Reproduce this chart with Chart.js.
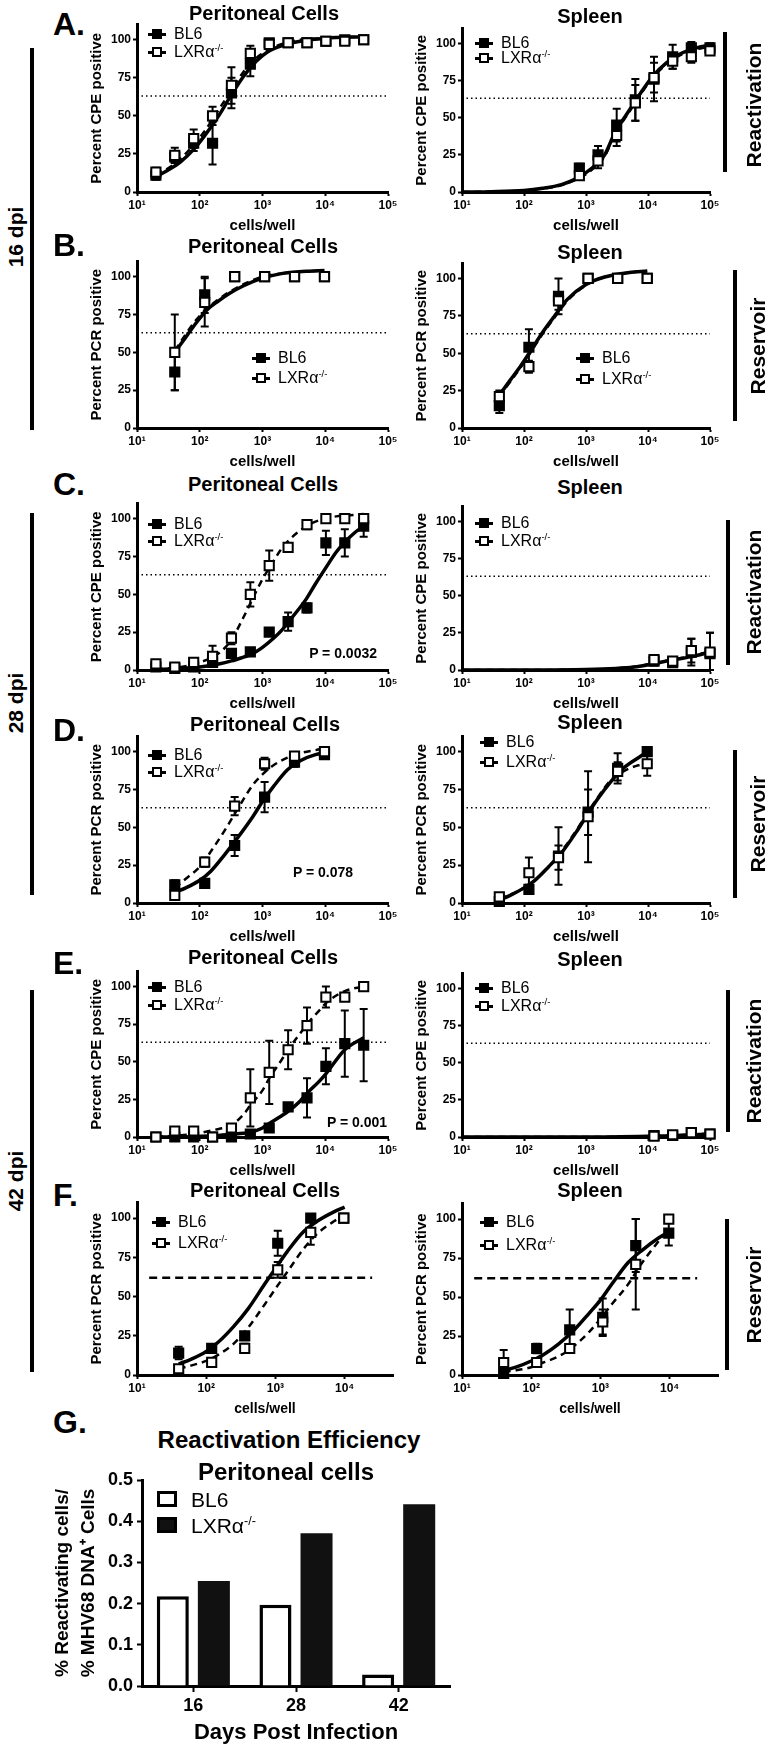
<!DOCTYPE html>
<html><head><meta charset="utf-8">
<script src="https://cdn.jsdelivr.net/npm/chart.js@4.4.1/dist/chart.umd.min.js"></script>
<style>
html,body{margin:0;padding:0;background:#fff;}
body{width:769px;height:1749px;position:relative;overflow:hidden;font-family:"Liberation Sans",Arial,Helvetica,sans-serif;color:#000;}
canvas{position:absolute;}
.t{position:absolute;white-space:nowrap;line-height:1;}
.vt{position:absolute;white-space:nowrap;line-height:1;transform:translate(-50%,-50%) rotate(-90deg);}
.bar{position:absolute;background:#000;}
.lg{position:absolute;white-space:nowrap;line-height:1;transform:translateY(-50%);}
.mk{position:absolute;height:3px;width:18px;background:#000;}
.sq{position:absolute;width:6px;height:6px;border:2px solid #000;}
.gb{position:absolute;width:14px;height:10px;border:3px solid #000;}
sup{font-size:0.6em;line-height:0;vertical-align:0.6em;}
</style></head><body>
<script>
// ---------------- DATA ----------------
const logTicks5 = [10, 100, 1000, 10000, 100000];
const logTicks4 = [10, 100, 1000, 10000];
const pctTicks = [0, 25, 50, 75, 100];
const cpePeriDil = [20, 40, 80, 160, 320, 640, 1280, 2560, 5120, 10240, 20480, 40960];
const cpeSplDil = [781, 1563, 3125, 6250, 12500, 25000, 50000, 100000];
const pcrDil = [40, 120, 360, 1080, 3240, 9720];
const cutoffPct = 63;
const cutoffPctF = 62;
const cutoffXF = [15, 25000];

// A. 16 dpi reactivation, peritoneal
const aL_bl6 = [11, 23, 32, 32, 65, 84, 98, 98, 98, 99, 100, 100];
const aL_bl6Err = [3, 4, 5, 14, 10, 8, 2, 1, 1, 1, 1, 1];
const aL_lxr = [13, 24, 35, 50, 70, 91, 97, 98, 98, 99, 99, 100];
const aL_lxrErr = [3, 5, 6, 6, 12, 5, 2, 1, 1, 1, 1, 1];
const aL_fitX = [20, 30, 50, 80, 120, 200, 300, 500, 800, 1200, 2000, 4000, 10000, 40960];
const aL_fitBl6 = [10, 14, 20, 28, 37, 50, 62, 76, 86, 92, 96, 99, 101, 102];
const aL_fitLxr = [11, 15, 22, 31, 40, 54, 65, 79, 88, 93, 97, 100, 101, 102];
// A. 16 dpi reactivation, spleen
const aR_bl6 = [16, 25, 45, 62, 76, 91, 97, 97];
const aR_bl6Err = [3, 6, 11, 14, 15, 8, 4, 3];
const aR_lxr = [11, 21, 38, 60, 77, 88, 91, 95];
const aR_lxrErr = [2, 5, 7, 12, 10, 5, 4, 2];
const aR_fitX = [10, 30, 100, 200, 400, 700, 1000, 1500, 2000, 3000, 4000, 6000, 8000, 12000, 20000, 30000, 50000, 100000];
const aR_fitBl6 = [0, 0.2, 1, 2.5, 5, 9, 13, 19, 25, 41, 49, 60, 68, 78, 87, 92, 96, 99];
const aR_fitLxr = [0, 0.2, 1, 2.3, 4.5, 8.5, 12, 18, 24, 40, 48, 59, 67, 77, 86, 91, 95, 98];
// B. 16 dpi reservoir, peritoneal
const bL_bl6 = [37, 88, 100, 100, 100, 100];
const bL_bl6Err = [12, 12, 1, 1, 1, 1];
const bL_lxr = [50, 83, 100, 100, 100, 100];
const bL_lxrErr = [25, 16, 1, 1, 1, 1];
const bL_fitX = [40, 60, 90, 130, 200, 300, 500, 1000, 2000, 5000, 9720];
const bL_fitBl6 = [50, 60, 70, 78, 84, 89, 94, 99, 102, 103.5, 104];
const bL_fitLxr = [51, 62, 72, 79, 85, 90, 95, 100, 102, 103.5, 104];
// B. 16 dpi reservoir, spleen
const bR_bl6 = [15, 54, 88, 100, 100, 100];
const bR_bl6Err = [5, 12, 12, 1, 1, 1];
const bR_lxr = [21, 41, 85, 100, 100, 100];
const bR_lxrErr = [4, 4, 6, 1, 1, 1];
const bR_fitX = [40, 60, 90, 130, 200, 300, 500, 1000, 2000, 5000, 9720];
const bR_fitBl6 = [22, 32, 42, 52, 64, 74, 86, 96, 101, 104, 105];
const bR_fitLxr = [21, 31, 41, 51, 63, 73, 85, 95.5, 101, 104, 105];
// C. 28 dpi reactivation, peritoneal
const cL_bl6 = [2, 1, 2, 5, 11, 12, 25, 32, 41, 84, 84, 95];
const cL_bl6Err = [1, 1, 1, 2, 2, 2, 2, 6, 3, 8, 9, 7];
const cL_lxr = [4, 2, 5, 9, 21, 50, 69, 81, 96, 100, 100, 100];
const cL_lxrErr = [1, 1, 1, 7, 4, 8, 10, 2, 3, 1, 1, 1];
const cL_fitX = [20, 50, 100, 200, 320, 500, 640, 1000, 1500, 2000, 3000, 5000, 7000, 10000, 15000, 20000, 30000, 40960];
const cL_fitBl6 = [0.3, 1, 2, 4, 6, 8.5, 10, 15, 21, 26, 35, 47, 57, 67, 78, 84, 91, 95];
const cL_fitLxr = [0.5, 2, 5, 11, 20, 35, 44, 60, 72, 80, 88, 95, 98, 100, 101.5, 102, 102.5, 103];
// C. 28 dpi reactivation, spleen (lowest dilutions not visible in the figure)
const cR_bl6 = [null, null, null, null, 6, 5, 12, 11];
const cR_bl6Err = [0, 0, 0, 0, 3, 3, 9, 14];
const cR_lxr = [null, null, null, null, 7, 6, 13, 12];
const cR_lxrErr = [0, 0, 0, 0, 2, 2, 8, 13];
const cR_fitX = [10, 100, 1000, 3000, 6000, 10000, 20000, 50000, 100000];
const cR_fitBl6 = [0, 0, 0.3, 1, 2, 3.5, 6, 9, 12];
const cR_fitLxr = [0, 0, 0.3, 1, 2.2, 3.8, 6.3, 9.5, 12.5];
// D. 28 dpi reservoir, peritoneal
const dL_bl6 = [12, 13, 38, 70, 93, 98];
const dL_bl6Err = [3, 2, 7, 10, 3, 2];
const dL_lxr = [5, 27, 64, 92, 97, 100];
const dL_lxrErr = [3, 3, 6, 4, 2, 1];
const dL_fitX = [40, 60, 100, 150, 250, 400, 700, 1000, 1500, 2500, 4000, 7000, 9720];
const dL_fitBl6 = [7, 10, 15, 21, 32, 43, 57, 67, 77, 88, 94, 98, 99];
const dL_fitLxr = [10, 16, 24, 34, 48, 62, 78, 85, 91, 96, 99, 101, 102];
// D. 28 dpi reservoir, spleen
const dR_bl6 = [1, 9, 31, 60, 89, 100];
const dR_bl6Err = [2, 3, 19, 15, 10, 2];
const dR_lxr = [4, 20, 30, 57, 87, 92];
const dR_lxrErr = [2, 10, 8, 30, 6, 8];
const dR_fitX = [40, 60, 100, 150, 250, 400, 700, 1000, 1500, 2500, 4000, 7000, 9720];
const dR_fitBl6 = [2, 5, 10, 15, 24, 33, 47, 57, 68, 80, 89, 96, 100];
const dR_fitLxr = [3, 5.5, 10, 15, 24, 34, 48, 58, 69, 81, 87, 91, 92];
// E. 42 dpi reactivation, peritoneal
const eL_bl6 = [0, 0, 0, 0, 0, 2, 6, 20, 26, 47, 62, 61];
const eL_bl6Err = [0, 0, 0, 0, 0, 1, 1, 2, 13, 12, 22, 24];
const eL_lxr = [0, 4, 4, 0, 6, 26, 43, 58, 74, 93, 93, 100];
const eL_lxrErr = [0, 1, 1, 0, 2, 19, 21, 13, 12, 7, 2, 1];
const eL_fitX = [20, 40, 80, 160, 320, 500, 640, 1000, 1280, 2000, 2560, 4000, 5120, 8000, 10240, 20480, 40960];
const eL_fitBl6 = [0, 0, 0.3, 0.8, 1.8, 2.5, 3.2, 6, 9, 14, 17, 24, 29, 37, 42, 58, 66];
const eL_fitLxr = [0.3, 0.8, 2, 4.5, 8, 15, 21, 31, 39, 51, 58, 69, 75, 84, 89, 97, 100];
// E. 42 dpi reactivation, spleen (lowest dilutions not visible in the figure)
const eR_bl6 = [null, null, null, null, 1, 1, 3, 2];
const eR_bl6Err = [0, 0, 0, 0, 1, 1, 2, 1];
const eR_lxr = [null, null, null, null, 0.5, 1.5, 3, 2];
const eR_lxrErr = [0, 0, 0, 0, 1, 1, 2, 1];
const eR_fitX = [10, 1000, 10000, 30000, 100000];
const eR_fitBl6 = [0, 0, 0.5, 1, 2];
const eR_fitLxr = [0, 0, 0.5, 1.2, 2.2];
// F. 42 dpi reservoir, peritoneal
const fL_bl6 = [14, 17, 25, 84, 100, 100];
const fL_bl6Err = [4, 2, 2, 8, 2, 1];
const fL_lxr = [4, 8, 17, 67, 91, 100];
const fL_lxrErr = [2, 2, 3, 5, 8, 1];
const fL_fitX = [40, 60, 100, 150, 250, 400, 700, 1000, 1500, 2500, 4000, 7000, 10000];
const fL_fitBl6 = [7, 10, 15, 21, 31, 42, 58, 68, 79, 91, 98, 104, 107];
const fL_fitLxr = [4, 6, 9, 13, 20, 30, 45, 55, 66, 80, 90, 98, 102];
// F. 42 dpi reservoir, spleen
const fR_bl6 = [1, 17, 29, 37, 83, 91];
const fR_bl6Err = [1, 3, 13, 12, 17, 8];
const fR_lxr = [8, 8, 17, 34, 71, 100];
const fR_lxrErr = [8, 2, 2, 8, 29, 1];
const fR_fitX = [40, 60, 100, 150, 250, 400, 700, 1000, 1500, 2500, 4000, 7000, 10000];
const fR_fitBl6 = [3, 5, 9, 13, 20, 28, 40, 48, 59, 72, 80, 88, 92];
const fR_fitLxr = [2, 3, 5, 8, 12, 18, 28, 36, 46, 58, 72, 86, 94];
// G. reactivation efficiency
const dayLabels = ['16', '28', '42'];
const effBL6 = [0.218, 0.197, 0.028];
const effLXR = [0.255, 0.371, 0.441];
const effTicks = [0, 0.1, 0.2, 0.3, 0.4, 0.5];

// ---------------- RENDERING ----------------
Chart.defaults.font.family = '"Liberation Sans", Arial, Helvetica, sans-serif';
Chart.defaults.color = '#000';
const SUP = ['\u2070', '\u00B9', '\u00B2', '\u00B3', '\u2074', '\u2075'];
const LXR = 'LXR\u03B1<sup>-/-</sup>';

function el(tag, cls) { const d = document.createElement(tag); if (cls) d.className = cls; document.body.appendChild(d); return d; }
function addText(html, cx, cy, size, bold) {
  const d = el('div', 't'); d.innerHTML = html;
  d.style.fontSize = size + 'px'; d.style.fontWeight = bold === false ? 'normal' : 'bold';
  d.style.left = cx + 'px'; d.style.top = cy + 'px'; d.style.transform = 'translate(-50%,-50%)';
  return d;
}
function addTextR(html, right, cy, size) {
  const d = addText(html, right, cy, size, true); d.style.transform = 'translate(-100%,-50%)'; return d;
}
function addVText(html, cx, cy, size) {
  const d = el('div', 'vt'); d.innerHTML = html; d.style.fontSize = size + 'px'; d.style.fontWeight = 'bold';
  d.style.left = cx + 'px'; d.style.top = cy + 'px'; return d;
}
function addVLine(x, y1, y2, w) {
  const d = el('div', 'bar'); d.style.left = (x - w / 2) + 'px'; d.style.top = y1 + 'px';
  d.style.width = w + 'px'; d.style.height = (y2 - y1) + 'px';
}
function addLegend(mx, y1, y2) {
  [[y1, '#000', 'BL6'], [y2, '#fff', LXR]].forEach(([y, fill, label]) => {
    const ln = el('div', 'mk'); ln.style.left = mx + 'px'; ln.style.top = (y - 1.5) + 'px';
    const sq = el('div', 'sq'); sq.style.left = (mx + 4) + 'px'; sq.style.top = (y - 5) + 'px'; sq.style.background = fill;
    const tx = el('div', 'lg'); tx.innerHTML = label; tx.style.fontSize = '16px';
    tx.style.left = (mx + 26) + 'px'; tx.style.top = y + 'px';
  });
}

const errPlugin = {
  id: 'errbars',
  beforeDatasetDraw(chart, args) {
    const ds = chart.data.datasets[args.index];
    if (!ds.errors) return;
    const ys = chart.scales.y, ctx = chart.ctx;
    ctx.save(); ctx.strokeStyle = '#000'; ctx.lineWidth = 2;
    args.meta.data.forEach((pt, i) => {
      const e = ds.errors[i]; const v = ds.data[i].y;
      if (!e || v === null || v === undefined) return;
      const y1 = ys.getPixelForValue(v + e), y2 = ys.getPixelForValue(Math.max(0, v - e)), x = pt.x;
      ctx.beginPath();
      ctx.moveTo(x, y1); ctx.lineTo(x, y2);
      ctx.moveTo(x - 4, y1); ctx.lineTo(x + 4, y1);
      ctx.moveTo(x - 4, y2); ctx.lineTo(x + 4, y2);
      ctx.stroke();
    });
    ctx.restore();
  }
};

const pts = (xs, ys) => xs.map((x, i) => ({ x: x, y: ys[i] }));
const axisGrid = { display: true, drawOnChartArea: false, drawTicks: true, tickLength: 4, tickWidth: 2, tickColor: '#000', color: '#000' };
const axisBorder = { display: true, width: 3, color: '#000' };

function lineChart(p) {
  const YW = 49, XH = 43, PT = 8, PR = 14;
  const w = YW + (p.R - p.L) + PR, h = PT + (p.B - p.T) + XH;
  const cv = el('canvas');
  cv.width = w; cv.height = h; cv.style.width = w + 'px'; cv.style.height = h + 'px';
  cv.style.left = (p.L - YW) + 'px'; cv.style.top = (p.T - PT) + 'px';
  const xMin = 10;
  const thX = p.thX || [xMin, p.xMax];
  new Chart(cv, {
    type: 'line',
    data: {
      datasets: [
        { data: pts(p.dil, p.lxr), errors: p.lxrE, showLine: false, pointStyle: 'rect', pointRadius: 6.5,
          pointBackgroundColor: '#fff', pointBorderColor: '#000', pointBorderWidth: 2, clip: false },
        { data: pts(p.dil, p.bl6), errors: p.bl6E, showLine: false, pointStyle: 'rect', pointRadius: 6.5,
          pointBackgroundColor: '#000', pointBorderColor: '#000', pointBorderWidth: 2, clip: false },
        { data: pts(p.fx, p.fb), borderColor: '#000', borderWidth: 3.5, pointRadius: 0,
          cubicInterpolationMode: 'monotone', fill: false, clip: false },
        { data: pts(p.fx, p.fl), borderColor: '#000', borderWidth: 2.5, borderDash: [7, 5], pointRadius: 0,
          cubicInterpolationMode: 'monotone', fill: false, clip: false },
        { data: pts(thX, [p.th, p.th]), borderColor: '#000', borderWidth: p.thW, borderDash: p.dash, pointRadius: 0, clip: false }
      ]
    },
    options: {
      responsive: false, maintainAspectRatio: false, animation: false, devicePixelRatio: 1,
      layout: { padding: { left: 0, top: PT, right: PR, bottom: 0 } },
      plugins: { legend: { display: false }, tooltip: { enabled: false }, title: { display: false } },
      scales: {
        x: {
          type: 'logarithmic', min: xMin, max: p.xMax,
          afterBuildTicks: s => { s.ticks = p.xt.map(v => ({ value: v })); },
          afterFit: s => { s.height = XH; s.paddingLeft = 0; s.paddingRight = 0; },
          ticks: { callback: v => '10' + SUP[Math.round(Math.log10(v))], font: { size: 12, weight: 'bold' },
                   color: '#000', padding: 2, maxRotation: 0, autoSkip: false },
          grid: axisGrid, border: axisBorder,
          title: { display: true, text: 'cells/well', font: { size: p.xts || 15, weight: 'bold' }, padding: { top: 0, bottom: 0 }, color: '#000' }
        },
        y: {
          type: 'linear', min: 0, max: 110,
          afterBuildTicks: s => { s.ticks = pctTicks.map(v => ({ value: v })); },
          afterFit: s => { s.width = YW; s.paddingTop = 0; s.paddingBottom = 0; },
          ticks: { font: { size: 12, weight: 'bold' }, color: '#000', padding: 2 },
          grid: axisGrid, border: axisBorder,
          title: { display: true, text: p.yTitle, font: { size: 15, weight: 'bold' }, padding: { top: 0, bottom: 0 }, color: '#000' }
        }
      }
    },
    plugins: [errPlugin]
  });
}

const CPE = 'Percent CPE positive', PCR = 'Percent PCR positive';
const dotted = [1.5, 3], dashed = [8, 5];
const panels = [
  { L: 137, R: 388, T: 24, B: 192, xMax: 1e5, xt: logTicks5, yTitle: CPE, dil: cpePeriDil, bl6: aL_bl6, bl6E: aL_bl6Err, lxr: aL_lxr, lxrE: aL_lxrErr, fx: aL_fitX, fb: aL_fitBl6, fl: aL_fitLxr, th: cutoffPct, dash: dotted, thW: 1.5 },
  { L: 462, R: 710, T: 28, B: 192, xMax: 1e5, xt: logTicks5, yTitle: CPE, dil: cpeSplDil, bl6: aR_bl6, bl6E: aR_bl6Err, lxr: aR_lxr, lxrE: aR_lxrErr, fx: aR_fitX, fb: aR_fitBl6, fl: aR_fitLxr, th: cutoffPct, dash: dotted, thW: 1.5 },
  { L: 137, R: 388, T: 261, B: 428, xMax: 1e5, xt: logTicks5, yTitle: PCR, dil: pcrDil, bl6: bL_bl6, bl6E: bL_bl6Err, lxr: bL_lxr, lxrE: bL_lxrErr, fx: bL_fitX, fb: bL_fitBl6, fl: bL_fitLxr, th: cutoffPct, dash: dotted, thW: 1.5 },
  { L: 462, R: 710, T: 263, B: 428, xMax: 1e5, xt: logTicks5, yTitle: PCR, dil: pcrDil, bl6: bR_bl6, bl6E: bR_bl6Err, lxr: bR_lxr, lxrE: bR_lxrErr, fx: bR_fitX, fb: bR_fitBl6, fl: bR_fitLxr, th: cutoffPct, dash: dotted, thW: 1.5 },
  { L: 137, R: 388, T: 503, B: 670, xMax: 1e5, xt: logTicks5, yTitle: CPE, dil: cpePeriDil, bl6: cL_bl6, bl6E: cL_bl6Err, lxr: cL_lxr, lxrE: cL_lxrErr, fx: cL_fitX, fb: cL_fitBl6, fl: cL_fitLxr, th: cutoffPct, dash: dotted, thW: 1.5 },
  { L: 462, R: 710, T: 506, B: 670, xMax: 1e5, xt: logTicks5, yTitle: CPE, dil: cpeSplDil, bl6: cR_bl6, bl6E: cR_bl6Err, lxr: cR_lxr, lxrE: cR_lxrErr, fx: cR_fitX, fb: cR_fitBl6, fl: cR_fitLxr, th: cutoffPct, dash: dotted, thW: 1.5 },
  { L: 137, R: 388, T: 736, B: 903, xMax: 1e5, xt: logTicks5, yTitle: PCR, dil: pcrDil, bl6: dL_bl6, bl6E: dL_bl6Err, lxr: dL_lxr, lxrE: dL_lxrErr, fx: dL_fitX, fb: dL_fitBl6, fl: dL_fitLxr, th: cutoffPct, dash: dotted, thW: 1.5 },
  { L: 462, R: 710, T: 736, B: 903, xMax: 1e5, xt: logTicks5, yTitle: PCR, dil: pcrDil, bl6: dR_bl6, bl6E: dR_bl6Err, lxr: dR_lxr, lxrE: dR_lxrErr, fx: dR_fitX, fb: dR_fitBl6, fl: dR_fitLxr, th: cutoffPct, dash: dotted, thW: 1.5 },
  { L: 137, R: 388, T: 971, B: 1137, xMax: 1e5, xt: logTicks5, yTitle: CPE, dil: cpePeriDil, bl6: eL_bl6, bl6E: eL_bl6Err, lxr: eL_lxr, lxrE: eL_lxrErr, fx: eL_fitX, fb: eL_fitBl6, fl: eL_fitLxr, th: cutoffPct, dash: dotted, thW: 1.5 },
  { L: 462, R: 710, T: 973, B: 1137, xMax: 1e5, xt: logTicks5, yTitle: CPE, dil: cpeSplDil, bl6: eR_bl6, bl6E: eR_bl6Err, lxr: eR_lxr, lxrE: eR_lxrErr, fx: eR_fitX, fb: eR_fitBl6, fl: eR_fitLxr, th: cutoffPct, dash: dotted, thW: 1.5 },
  { L: 137, R: 393, T: 1202, B: 1375, xMax: 5e4, xt: logTicks4, yTitle: PCR, xts: 14, dil: pcrDil, bl6: fL_bl6, bl6E: fL_bl6Err, lxr: fL_lxr, lxrE: fL_lxrErr, fx: fL_fitX, fb: fL_fitBl6, fl: fL_fitLxr, th: cutoffPctF, thX: cutoffXF, dash: dashed, thW: 2.5 },
  { L: 462, R: 718, T: 1203, B: 1375, xMax: 5e4, xt: logTicks4, yTitle: PCR, xts: 14, dil: pcrDil, bl6: fR_bl6, bl6E: fR_bl6Err, lxr: fR_lxr, lxrE: fR_lxrErr, fx: fR_fitX, fb: fR_fitBl6, fl: fR_fitLxr, th: cutoffPctF, thX: cutoffXF, dash: dashed, thW: 2.5 }
];
panels.forEach(lineChart);

// panel titles
[['Peritoneal Cells', 264, 13], ['Spleen', 590, 16], ['Peritoneal Cells', 263, 246], ['Spleen', 590, 252],
 ['Peritoneal Cells', 263, 484], ['Spleen', 590, 487], ['Peritoneal Cells', 265, 724], ['Spleen', 590, 722],
 ['Peritoneal Cells', 263, 957], ['Spleen', 590, 959], ['Peritoneal Cells', 265, 1190], ['Spleen', 590, 1190]]
  .forEach(([s, x, y]) => addText(s, x, y, 20));

// panel letters
[['A.', 24], ['B.', 245], ['C.', 484], ['D.', 730], ['E.', 963], ['F.', 1195], ['G.', 1422]]
  .forEach(([s, y]) => { const d = addText(s, 53, y, 32); d.style.transform = 'translate(0,-50%)'; });

// legends
[[148, 34, 52], [475, 43, 58], [252, 358, 378], [576, 358, 379], [148, 524, 541], [475, 523, 541],
 [148, 755, 772], [480, 742, 762], [148, 987, 1005], [475, 988, 1006], [152, 1222, 1243], [480, 1222, 1245]]
  .forEach(([x, a, b]) => addLegend(x, a, b));

// P values
addTextR('P = 0.0032', 377, 653, 14);
addTextR('P = 0.078', 353, 872, 14);
addTextR('P = 0.001', 387, 1122, 14);

// left dpi labels
addVLine(32, 48, 430, 4); addVText('16 dpi', 15, 237, 21);
addVLine(32, 513, 895, 4); addVText('28 dpi', 15, 703, 21);
addVLine(32, 990, 1372, 4); addVText('42 dpi', 15, 1181, 21);

// right labels
addVLine(725, 32, 172, 3.5); addVText('Reactivation', 753, 105, 21);
addVLine(735, 270, 421, 3.5); addVText('Reservoir', 757, 346, 21);
addVLine(728, 520, 665, 3.5); addVText('Reactivation', 753, 592, 21);
addVLine(735, 750, 898, 3.5); addVText('Reservoir', 757, 824, 21);
addVLine(728, 990, 1132, 3.5); addVText('Reactivation', 753, 1061, 21);
addVLine(727, 1219, 1370, 3.5); addVText('Reservoir', 753, 1295, 21);

// ---------------- G bar chart ----------------
(function () {
  const L = 142, R = 450, T = 1480, B = 1686, YW = 92, XH = 60, PT = 10, PR = 20;
  const w = YW + (R - L) + PR, h = PT + (B - T) + XH;
  const cv = el('canvas');
  cv.width = w; cv.height = h; cv.style.width = w + 'px'; cv.style.height = h + 'px';
  cv.style.left = (L - YW) + 'px'; cv.style.top = (T - PT) + 'px';
  const g = { display: true, drawOnChartArea: false, drawTicks: true, tickLength: 6, tickWidth: 2, tickColor: '#000', color: '#000', offset: false };
  new Chart(cv, {
    type: 'bar',
    data: {
      labels: dayLabels,
      datasets: [
        { label: 'BL6', data: effBL6, backgroundColor: '#fff', borderColor: '#000', borderWidth: 3.5, categoryPercentage: 0.8, barPercentage: 0.78 },
        { label: 'LXR', data: effLXR, backgroundColor: '#111', borderColor: '#111', borderWidth: 0, categoryPercentage: 0.8, barPercentage: 0.78 }
      ]
    },
    options: {
      responsive: false, maintainAspectRatio: false, animation: false, devicePixelRatio: 1,
      layout: { padding: { left: 0, top: PT, right: PR, bottom: 0 } },
      plugins: { legend: { display: false }, tooltip: { enabled: false } },
      scales: {
        x: {
          offset: true, grid: g, border: axisBorder,
          afterFit: s => { s.height = XH; s.paddingLeft = 0; s.paddingRight = 0; },
          ticks: { font: { size: 18, weight: 'bold' }, color: '#000', padding: 3, maxRotation: 0 },
          title: { display: true, text: 'Days Post Infection', font: { size: 22, weight: 'bold' }, padding: { top: 0, bottom: 0 }, color: '#000' }
        },
        y: {
          min: 0, max: 0.5,
          afterBuildTicks: s => { s.ticks = effTicks.map(v => ({ value: v })); },
          afterFit: s => { s.width = YW; s.paddingTop = 0; s.paddingBottom = 0; },
          grid: Object.assign({}, g, { tickLength: 5 }), border: axisBorder,
          ticks: { callback: v => v.toFixed(1), font: { size: 18, weight: 'bold' }, color: '#000', padding: 4 },
          title: { display: true, text: ['% Reactivating cells/', '% MHV68 DNA\u207A Cells'], font: { size: 19, weight: 'bold', lineHeight: 1.37 }, padding: { top: 0, bottom: 0 }, color: '#000' }
        }
      }
    }
  });
  addText('Reactivation Efficiency', 289, 1440, 24);
  addText('Peritoneal cells', 286, 1472, 24);
  [[1499, '#fff', 'BL6'], [1525, '#111', LXR]].forEach(([y, fill, label]) => {
    const b = el('div', 'gb'); b.style.left = '157px'; b.style.top = (y - 8) + 'px'; b.style.background = fill;
    const tx = el('div', 'lg'); tx.innerHTML = label; tx.style.fontSize = '21px'; tx.style.left = '191px'; tx.style.top = y + 'px';
  });
})();
</script>
</body></html>
